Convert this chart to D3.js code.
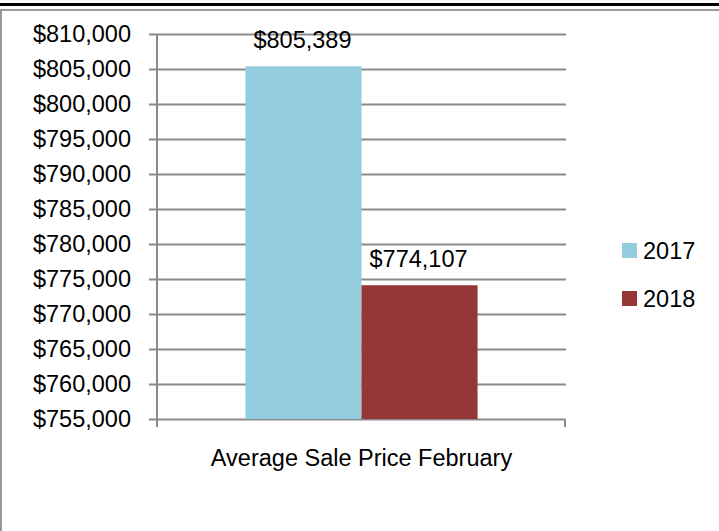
<!DOCTYPE html>
<html>
<head>
<meta charset="utf-8">
<script src="https://cdn.jsdelivr.net/npm/d3@7"></script>
<style>
  body { margin: 0; background: #fff; }
  svg text { font-family: "Liberation Sans", Arial, sans-serif; font-size: 23.5px; fill: #000; }
  .grid line { stroke: #8a8a8a; stroke-width: 2; }
</style>
</head>
<body>
<div id="chart"></div>
<script>
// chart data
var categories = ["Average Sale Price February"];
var seriesNames = ["2017", "2018"];
var seriesValues = [805389, 774107];
var seriesColors = ["#93cddd", "#953735"];
var yTicks = [755000, 760000, 765000, 770000, 775000, 780000, 785000, 790000, 795000, 800000, 805000, 810000];

var W = 719, H = 531;
var plot = { left: 157, right: 566, top: 34, bottom: 419 };

var svg = d3.select("#chart").append("svg")
    .attr("width", W)
    .attr("height", H);

// outer frame
svg.append("rect").attr("x", 0).attr("y", 3).attr("width", W).attr("height", 3).attr("fill", "#000");
svg.append("rect").attr("x", 0).attr("y", 9).attr("width", W).attr("height", 2).attr("fill", "#999");
svg.append("rect").attr("x", 0).attr("y", 9).attr("width", 2).attr("height", H - 9).attr("fill", "#999");

// scales
var y = d3.scaleLinear()
    .domain([755000, 810000])
    .range([plot.bottom, plot.top]);

var x0 = d3.scaleBand()
    .domain(categories)
    .range([plot.left, plot.right])
    .paddingInner(0)
    .paddingOuter(0.381);

var x1 = d3.scaleBand()
    .domain(seriesNames)
    .range([0, x0.bandwidth()]);

// gridlines + y tick labels
var yAxis = d3.axisLeft(y)
    .tickValues(yTicks)
    .tickSize(-(plot.right - plot.left + 8))
    .tickPadding(18)
    .tickFormat(function(d) { return "$" + d3.format(",")(d); });

svg.append("g")
    .attr("class", "grid")
    .attr("transform", "translate(" + (plot.left - 8) + ",0)")
    .call(yAxis)
    .call(function(g) { g.select(".domain").remove(); })
    .selectAll("text")
    .attr("fill", "#000")
    .style("font-size", "23.5px");

// axis lines
svg.append("line")
    .attr("x1", plot.left).attr("x2", plot.left)
    .attr("y1", plot.top).attr("y2", plot.bottom + 8)
    .attr("stroke", "#8a8a8a").attr("stroke-width", 2);

svg.append("line")
    .attr("x1", plot.right - 1).attr("x2", plot.right - 1)
    .attr("y1", plot.bottom).attr("y2", plot.bottom + 8)
    .attr("stroke", "#8a8a8a").attr("stroke-width", 2);

// bars
var group = svg.append("g")
    .attr("transform", "translate(" + x0(categories[0]) + ",0)");

group.selectAll("rect")
    .data(seriesValues)
    .enter()
    .append("rect")
    .attr("x", function(d, i) { return x1(seriesNames[i]); })
    .attr("y", function(d) { return y(d); })
    .attr("width", x1.bandwidth())
    .attr("height", function(d) { return plot.bottom - y(d); })
    .attr("fill", function(d, i) { return seriesColors[i]; });

// value labels
group.selectAll(".value-label")
    .data(seriesValues)
    .enter()
    .append("text")
    .attr("class", "value-label")
    .attr("x", function(d, i) { return x1(seriesNames[i]) + x1.bandwidth() / 2 - 1; })
    .attr("y", function(d) { return y(d) - 18; })
    .attr("text-anchor", "middle")
    .text(function(d) { return "$" + d3.format(",")(d); });

// category label
svg.append("text")
    .attr("x", x0(categories[0]) + x0.bandwidth() / 2)
    .attr("y", 466)
    .attr("text-anchor", "middle")
    .text(categories[0]);

// legend
var legend = svg.selectAll(".legend")
    .data(seriesNames)
    .enter()
    .append("g")
    .attr("class", "legend")
    .attr("transform", function(d, i) { return "translate(622," + (243 + i * 48) + ")"; });

legend.append("rect")
    .attr("width", 15)
    .attr("height", 15)
    .attr("fill", function(d, i) { return seriesColors[i]; });

legend.append("text")
    .attr("x", 21)
    .attr("y", 16)
    .text(function(d) { return d; });
</script>
</body>
</html>
